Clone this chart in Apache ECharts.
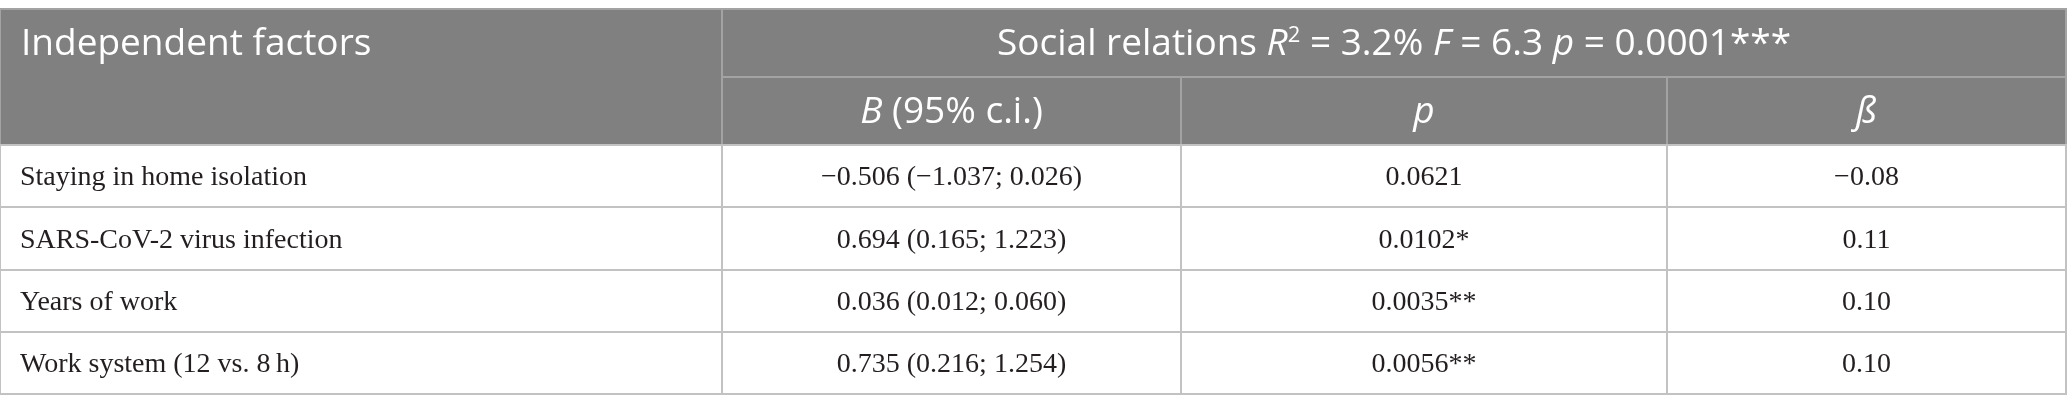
<!DOCTYPE html>
<html>
<head>
<meta charset="utf-8">
<script src="https://cdn.jsdelivr.net/npm/echarts@6/dist/echarts.min.js"></script>
<style>
html,body{margin:0;padding:0;background:#fff;}
#main{width:2067px;height:408px;}
</style>
</head>
<body>
<div id="main"></div>
<script>
// ---- data ----
const factors = ["Staying in home isolation", "SARS-CoV-2 virus infection", "Years of work", "Work system (12 vs. 8\u2009h)"];
const bValues = [-0.506, 0.694, 0.036, 0.735];
const ciLow = [-1.037, 0.165, 0.012, 0.216];
const ciHigh = [0.026, 1.223, 0.060, 1.254];
const pValues = [0.0621, 0.0102, 0.0035, 0.0056];
const betas = [-0.08, 0.11, 0.10, 0.10];
const modelName = "Social relations";
const modelR2 = 3.2;
const modelF = 6.3;
const modelP = 0.0001;
const headerFactor = "Independent factors";

// ---- layout (not data) ----
const W = 2067, H = 408;
const colEdges = [0, 722, 1181, 1667, 2066];
const rowEdges = [9, 77, 145, 207, 270, 332, 394];
const HEADER_BG = '#808080';
const LINE = '#c2c2c2';
const HEADER_LINE = '#a3a3a3';
const SANS = '"Open Sans", "Noto Sans", sans-serif';
const SERIF = '"Liberation Serif", "DejaVu Serif", serif';
const HEAD_SIZE = 37;
const BODY_SIZE = 28;

function fmt(v, d) {
  return v.toFixed(d).replace('-', '\u2212');
}
function stars(p) {
  return p < 0.001 ? '***' : p < 0.01 ? '**' : p < 0.05 ? '*' : '';
}

// build cells
const cells = [];
cells.push({c: [0, 1], r: [0, 2], tr: [0, 1], kind: 'headL', text: headerFactor});
cells.push({c: [1, 4], r: [0, 1], tr: [0, 1], kind: 'headC',
  text: modelName + ' {i|R}{sup|2} = ' + modelR2.toFixed(1) + '% {i|F} = ' + modelF.toFixed(1) +
        ' {i|p} = ' + modelP.toFixed(4) + stars(modelP)});
cells.push({c: [1, 2], r: [1, 2], tr: [1, 2], kind: 'headC', text: '{i|B} (95% c.i.)'});
cells.push({c: [2, 3], r: [1, 2], tr: [1, 2], kind: 'headC', text: '{i|p}'});
cells.push({c: [3, 4], r: [1, 2], tr: [1, 2], kind: 'headC', text: '{i|\u00df}'});
factors.forEach((f, i) => {
  const r = 2 + i;
  cells.push({c: [0, 1], r: [r, r + 1], tr: [r, r + 1], kind: 'bodyL', text: f});
  cells.push({c: [1, 2], r: [r, r + 1], tr: [r, r + 1], kind: 'bodyC',
    text: fmt(bValues[i], 3) + ' (' + fmt(ciLow[i], 3) + '; ' + fmt(ciHigh[i], 3) + ')'});
  cells.push({c: [2, 3], r: [r, r + 1], tr: [r, r + 1], kind: 'bodyC', text: pValues[i].toFixed(4) + stars(pValues[i])});
  cells.push({c: [3, 4], r: [r, r + 1], tr: [r, r + 1], kind: 'bodyC', text: fmt(betas[i], 2)});
});

const seriesData = cells.map((cell, idx) => [idx]);

const chart = echarts.init(document.getElementById('main'), null, {renderer: 'canvas'});
chart.setOption({
  animation: false,
  backgroundColor: '#fff',
  grid: {left: 0, right: 0, top: 0, bottom: 0},
  xAxis: {type: 'value', min: 0, max: W, show: false},
  yAxis: {type: 'value', min: 0, max: H, inverse: true, show: false},
  series: [{
    type: 'custom',
    coordinateSystem: 'cartesian2d',
    data: seriesData,
    clip: false,
    renderItem: function (params, api) {
      const cell = cells[api.value(0)];
      const p0 = api.coord([colEdges[cell.c[0]], rowEdges[cell.r[0]]]);
      const p1 = api.coord([colEdges[cell.c[1]], rowEdges[cell.r[1]]]);
      const t0 = api.coord([0, rowEdges[cell.tr[0]]]);
      const t1 = api.coord([0, rowEdges[cell.tr[1]]]);
      const isHead = cell.kind.indexOf('head') === 0;
      const isLeft = cell.kind === 'headL' || cell.kind === 'bodyL';
      const cy = (t0[1] + t1[1]) / 2;
      const tx = isLeft ? p0[0] + (isHead ? 21 : 20) : (p0[0] + p1[0]) / 2;
      return {
        type: 'group',
        children: [
          {
            type: 'rect',
            shape: {x: p0[0], y: p0[1], width: p1[0] - p0[0], height: p1[1] - p0[1]},
            style: {fill: isHead ? HEADER_BG : '#fff', stroke: isHead ? HEADER_LINE : LINE, lineWidth: 2}
          },
          {
            type: 'text',
            z2: 10,
            style: {
              text: cell.text,
              x: tx,
              y: cy + (isHead ? 1 : 2),
              align: isLeft ? 'left' : 'center',
              verticalAlign: 'middle',
              fill: isHead ? '#ffffff' : '#231f20',
              fontFamily: isHead ? SANS : SERIF,
              fontSize: isHead ? HEAD_SIZE : BODY_SIZE,
              fontWeight: 'normal',
              rich: isHead ? {
                i: {fontStyle: 'italic', fontFamily: SANS, fontSize: HEAD_SIZE, fill: '#fff'},
                sup: {fontFamily: SANS, fontSize: 22, fill: '#fff', verticalAlign: 'top', padding: [0, 0, 16, 0]}
              } : {}
            }
          }
        ]
      };
    }
  }]
});
</script>
</body>
</html>
